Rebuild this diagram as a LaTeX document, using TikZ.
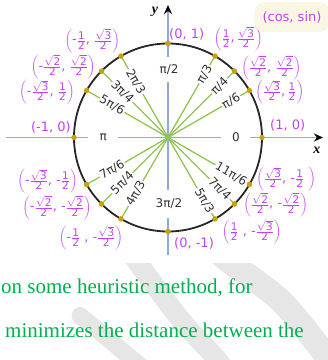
\documentclass[tikz,border=0pt]{standalone}
\usepackage{fontspec}
\setmainfont{DejaVu Sans}
\newfontfamily\bodyserif{Liberation Serif}
\usetikzlibrary{arrows.meta,positioning}
\definecolor{axisblue}{RGB}{143,170,220}
\definecolor{raygreen}{RGB}{146,196,82}
\definecolor{dotgold}{RGB}{200,160,10}
\definecolor{coordviolet}{RGB}{195,65,245}
\definecolor{textgreen}{RGB}{0,176,80}
\definecolor{boxcream}{RGB}{250,246,228}
\definecolor{markgray}{RGB}{230,230,230}
\newcommand\fr[2]{\ensuremath{\frac{\hbox{\fontsize{10.5}{10.5}\selectfont#1}}{\hbox{\fontsize{10.5}{10.5}\selectfont#2}}}}
\newcommand\rt[1]{\ensuremath{\sqrt{\hbox{#1}}}}
\newcommand\pts[1]{\ensuremath{\left(\hbox{#1}\right)}}
\tikzset{
  axis/.style={axisblue, line width=1.5pt, -{Stealth[black, length=9pt, width=8pt]}},
  ray/.style={raygreen, line width=1.3pt},
  unit/.style={draw=black!85, line width=1.8pt},
  dot/.style={circle, fill=dotgold, inner sep=0pt, minimum size=5.5pt},
  anglabel/.style={fill=white, inner sep=1pt, text=black!80, font=\fontsize{12}{12}\selectfont},
  axlabel/.style={fill=white, inner sep=0pt, text=black!80, font=\fontsize{12}{12}\selectfont},
  coord/.style={text=coordviolet, inner sep=0pt, font=\fontsize{13}{13}\selectfont},
  axname/.style={inner sep=0pt, font=\fontsize{14}{14}\bodyserif\bfseries\itshape},
  prose/.style={text=textgreen, inner sep=0pt, anchor=base west, font=\fontsize{21}{21}\bodyserif},
  wmark/.style={markgray, line width=20pt}
}
\begin{document}
\begin{tikzpicture}[x=1pt, y=1pt]
  \useasboundingbox (-168,-222.5) rectangle (160,137.5);

  % Background marks and text
  \begin{scope}
    \clip (-168,-125.5) rectangle (160,-222.5);
    \draw[wmark] plot[smooth] coordinates {(-38,-114.5) (-30,-125.5) (13,-182.5) (48,-220.5) (58,-236)};
    \draw[wmark, line width=24pt] plot[smooth] coordinates {(53,-117) (63,-125.5) (112,-162.5) (150,-207.5) (170,-235)};
    \draw[wmark, line width=17pt, line cap=round] (-88,-178) -- (-28,-228) -- (-20,-236);
  \end{scope}
  \node[prose] (line1) at (-167,-155.5) {on some heuristic method, for};
  \node[prose] (line2) at (-163,-199.5) {minimizes the distance between the};

  % Axes
  \coordinate (o) at (0,0);
  \coordinate (xl) at (-162,0);
  \coordinate (xr) at (155,0);
  \coordinate (yb) at (0,-117.5);
  \coordinate (yt) at (0,132.5);
  \draw[axis] (xl) -- (xr);
  \draw[axis] (yb) -- (yt);
  \node[axname] (xname) at (149,-12.5) {x};
  \node[axname] (yname) at (-13,125.8) {y};
  \node[axlabel, minimum width=30pt] (a180) at (-64.7,0) {π};
  \node[axlabel, minimum width=29pt] (a0) at (68,0) {0};
  \node[axlabel, minimum height=25pt] (a90) at (1,68) {π/2};
  \node[axlabel, minimum height=28pt] (a270) at (1,-66.5) {3π/2};

  % Rays and angle labels
  \foreach \a in {0,30,45,60,90,120,135,150,180,210,225,240,270,300,315,330}
    \coordinate (p\a) at (\a:94);
  \foreach \a in {30,45,60,120,135,150,210,225,240,300,315,330}
    \draw[ray] (o) -- (p\a);
  \foreach \a/\t in {30/{π/6},45/{π/4},60/{π/3},300/{5π/3},315/{7π/4},330/{11π/6}}
    \node[anglabel, rotate=\a] (l\a) at (\a:73) {\t};
  \foreach \a/\t in {120/{2π/3},135/{3π/4},150/{5π/6},210/{7π/6},225/{5π/4},240/{4π/3}}
    \node[anglabel, rotate=\a-180] (l\a) at (\a:64.5) {\t};

  % Unit circle
  \draw[unit] (o) circle (94);
  \foreach \a in {0,30,45,60,90,120,135,150,180,210,225,240,270,300,315,330}
    \node[dot] (d\a) at (p\a) {};

  % Point coordinates
  \node[coord, above right=6pt and 8pt of p0] (c0) {(1, 0)};
  \node[coord, right=6pt of p30, yshift=-2pt] (c30) {\pts{\fr{\rt{3}}{2},\,\fr{1}{2}}};
  \node[coord, right=7pt of p45, yshift=3pt] (c45) {\pts{\fr{\rt{2}}{2}, \fr{\rt{2}}{2}}};
  \node[coord, above right=5pt and -1pt of p60] (c60) {\pts{\fr{1}{2},\,\fr{\rt{3}}{2}}};
  \node[coord, above right=3pt and 1pt of p90] (c90) {(0, 1)};
  \node[coord, above left=3pt and 1pt of p120] (c120) {\pts{-\fr{1}{2}, \fr{\rt{3}}{2}}};
  \node[coord, left=6pt of p135, yshift=4pt] (c135) {\pts{-\fr{\rt{2}}{2}, \fr{\rt{2}}{2}}};
  \node[coord, left=12pt of p150, yshift=-2pt] (c150) {\pts{-\fr{\rt{3}}{2}, \fr{1}{2}}};
  \node[coord, above left=4pt and 3pt of p180] (c180) {(-1, 0)};
  \node[coord, left=9pt of p210, yshift=3pt] (c210) {\pts{-\fr{\rt{3}}{2}, -\fr{1}{2}}};
  \node[coord, left=10pt of p225, yshift=-4pt] (c225) {\pts{-\fr{\rt{2}}{2}, -\fr{\rt{2}}{2}}};
  \node[coord, below left=7pt and -2pt of p240] (c240) {\pts{-\fr{1}{2} , -\fr{\rt{3}}{2}}};
  \node[coord, below right=6pt and 6pt of p270] (c270) {(0, -1)};
  \node[coord, below right=1pt and 7pt of p300] (c300) {\pts{\fr{1}{2} , -\fr{\rt{3}}{2}}};
  \node[coord, right=9pt of p315, yshift=-1pt] (c315) {\pts{\fr{\rt{2}}{2}, -\fr{\rt{2}}{2}}};
  \node[coord, right=7pt of p330, yshift=5pt] (c330) {\pts{\fr{\rt{3}}{2}, -\fr{1}{2} }};
  \node[coord, fill=boxcream, rounded corners=10pt, minimum width=75pt, minimum height=30pt] (cossin) at (124,120.5) {(cos, sin)};
\end{tikzpicture}
\end{document}
